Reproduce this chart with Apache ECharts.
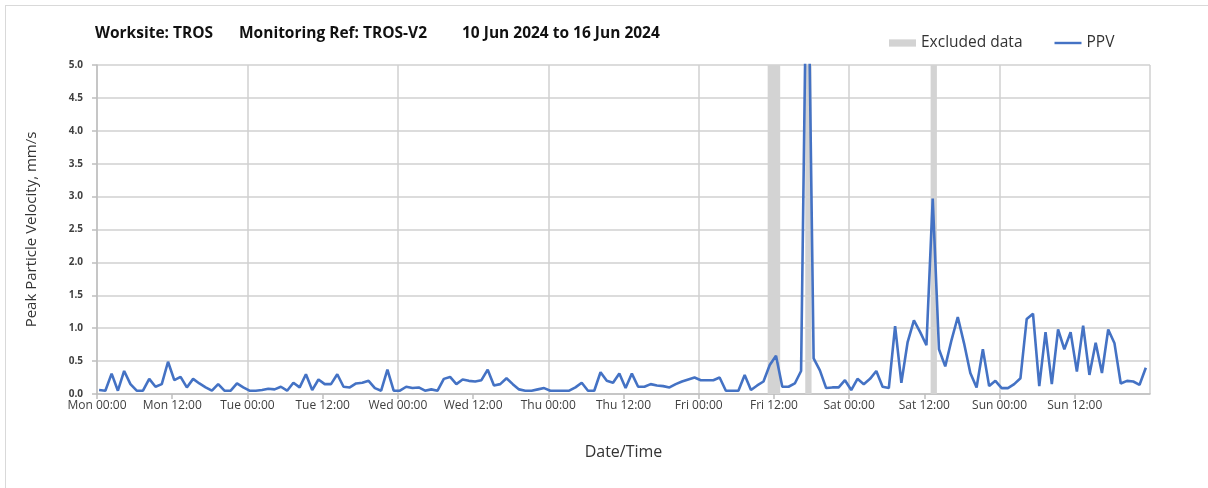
<!DOCTYPE html>
<html>
<head>
<meta charset="utf-8">
<script src="https://cdn.jsdelivr.net/npm/echarts@6/dist/echarts.min.js"></script>
<style>
  html, body { margin: 0; padding: 0; background: #fff; }
  #chart { position: absolute; left: 0; top: 0; width: 1208px; height: 488px; }
  #frame { position: absolute; left: 5px; top: 5px; width: 1210px; height: 500px;
           border-left: 1px solid #d9d9d9; border-top: 1px solid #d9d9d9; pointer-events: none; }
</style>
</head>
<body>
<div id="chart"></div>
<div id="frame"></div>
<script>
// hourly PPV readings, mm/s, first reading Mon 00:20
const readingStartMin = 20;
const ppv = [
  0.06, 0.05, 0.31, 0.05, 0.35, 0.15, 0.05, 0.05, 0.23, 0.11, 0.15, 0.49,
  0.21, 0.26, 0.10, 0.23, 0.16, 0.10, 0.05, 0.15, 0.05, 0.05, 0.16, 0.10,
  0.05, 0.05, 0.06, 0.08, 0.07, 0.11, 0.05, 0.17, 0.10, 0.30, 0.06, 0.22,
  0.15, 0.15, 0.30, 0.11, 0.10, 0.16, 0.17, 0.20, 0.09, 0.05, 0.37, 0.05,
  0.05, 0.11, 0.09, 0.10, 0.05, 0.07, 0.05, 0.23, 0.26, 0.15, 0.22, 0.20,
  0.19, 0.21, 0.37, 0.13, 0.15, 0.24, 0.15, 0.07, 0.05, 0.05, 0.07, 0.09,
  0.05, 0.05, 0.05, 0.05, 0.10, 0.17, 0.05, 0.05, 0.33, 0.20, 0.17, 0.31,
  0.09, 0.31, 0.11, 0.11, 0.15, 0.13, 0.12, 0.10, 0.15, 0.19, 0.22, 0.25,
  0.21, 0.21, 0.21, 0.25, 0.05, 0.05, 0.05, 0.29, 0.06, 0.13, 0.19, 0.44,
  0.58, 0.11, 0.11, 0.16, 0.35, 7.70, 0.54, 0.36, 0.09, 0.10, 0.10, 0.21,
  0.06, 0.23, 0.15, 0.23, 0.35, 0.11, 0.09, 1.03, 0.17, 0.79, 1.12, 0.94,
  0.74, 2.97, 0.68, 0.42, 0.82, 1.17, 0.77, 0.32, 0.10, 0.68, 0.12, 0.20,
  0.09, 0.09, 0.15, 0.24, 1.14, 1.22, 0.12, 0.94, 0.15, 0.98, 0.68, 0.94,
  0.34, 1.04, 0.29, 0.78, 0.32, 0.98, 0.77, 0.16, 0.20, 0.19, 0.14, 0.40
];
// excluded periods, hours from Mon 00:00
const excluded = [[107, 109], [113, 114], [133, 134]];
const dayNames = ['Mon', 'Tue', 'Wed', 'Thu', 'Fri', 'Sat', 'Sun'];
const yTicks = ['0.0', '0.5', '1.0', '1.5', '2.0', '2.5', '3.0', '3.5', '4.0', '4.5', '5.0'];

const seriesData = ppv.map((v, i) => [i + readingStartMin / 60, v]);

const chart = echarts.init(document.getElementById('chart'));
const font = '"Open Sans", "Noto Sans", sans-serif';

chart.setOption({
  animation: false,
  textStyle: { fontFamily: font },
  graphic: [
    { type: 'text', left: 95, top: 26, style: { text: 'Worksite: TROS', font: 'bold 15.5px ' + font, fill: '#111' } },
    { type: 'text', left: 239, top: 26, style: { text: 'Monitoring Ref: TROS-V2', font: 'bold 15.5px ' + font, fill: '#111' } },
    { type: 'text', left: 462, top: 26, style: { text: '10 Jun 2024 to 16 Jun 2024', font: 'bold 15.5px ' + font, fill: '#111' } }
  ],
  legend: {
    left: 884,
    top: 30,
    itemGap: 32,
    itemWidth: 27,
    itemHeight: 8,
    textStyle: { fontSize: 15.5, color: '#333', fontFamily: font },
    data: [
      { name: 'Excluded data', icon: 'path://M0,0H26V7H0Z', itemStyle: { color: '#d3d3d3' } },
      { name: 'PPV', icon: 'path://M0,0H29V2.6H0Z' }
    ]
  },
  grid: { left: 97, right: 58, top: 65, bottom: 94 },
  xAxis: [
    {
      type: 'value',
      min: 0,
      max: 168,
      interval: 12,
      name: 'Date/Time',
      nameLocation: 'middle',
      nameGap: 50,
      nameTextStyle: { fontSize: 16, color: '#333' },
      axisLine: { lineStyle: { color: '#bfbfbf', width: 1.5 } },
      axisTick: { show: true, length: 5, lineStyle: { color: '#bfbfbf', width: 1.5 } },
      axisLabel: {
        fontSize: 12,
        color: '#404040',
        margin: 6,
        showMaxLabel: false,
        formatter: function (h) {
          if (h >= 168) return '';
          const d = Math.floor(h / 24);
          const hr = h % 24;
          return dayNames[d] + ' ' + (hr < 10 ? '0' : '') + hr + ':00';
        }
      },
      splitLine: { show: false }
    },
    {
      type: 'value',
      min: 0,
      max: 168,
      interval: 24,
      position: 'bottom',
      axisLine: { show: false },
      axisTick: { show: false },
      axisLabel: { show: false },
      splitLine: { show: true, lineStyle: { color: '#d0d0d0', width: 1.5 } }
    }
  ],
  yAxis: {
    type: 'value',
    min: 0,
    max: 5,
    interval: 0.5,
    name: 'Peak Particle Velocity, mm/s',
    nameLocation: 'middle',
    nameRotate: 90,
    nameGap: 58,
    nameTextStyle: { fontSize: 15, color: '#333' },
    axisLine: { show: true, lineStyle: { color: '#bfbfbf', width: 1.5 } },
    axisTick: { show: true, length: 5, lineStyle: { color: '#bfbfbf', width: 1.5 } },
    axisLabel: {
      fontSize: 10,
      fontWeight: 'bold',
      color: '#404040',
      margin: 14,
      formatter: function (v) { return yTicks[Math.round(v * 2)]; }
    },
    splitLine: { show: true, lineStyle: { color: '#d0d0d0', width: 1.5 } }
  },
  series: [
    {
      name: 'Excluded data',
      type: 'line',
      data: [],
      itemStyle: { color: '#d3d3d3' },
      markArea: {
        silent: true,
        itemStyle: { color: '#d3d3d3' },
        data: excluded.map(e => [{ xAxis: e[0] }, { xAxis: e[1] }])
      }
    },
    {
      name: 'PPV',
      type: 'line',
      data: seriesData,
      showSymbol: false,
      clip: true,
      itemStyle: { color: '#4472c4' },
      lineStyle: { color: '#4472c4', width: 2.6 }
    }
  ]
});
</script>
</body>
</html>
